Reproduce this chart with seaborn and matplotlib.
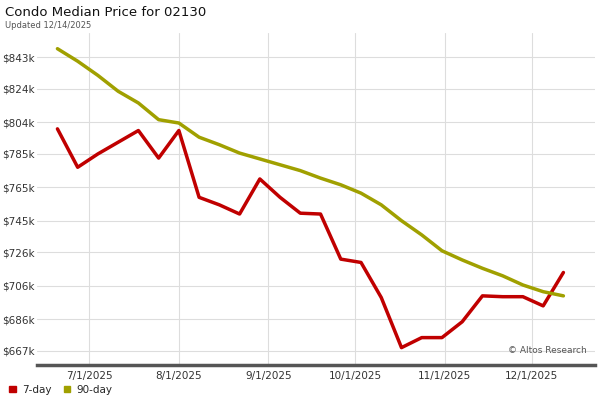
import numpy as np
import pandas as pd
import matplotlib
matplotlib.use("Agg")
import matplotlib.pyplot as plt
import matplotlib.dates as mdates
import seaborn as sns

# ── Données (en k$) ───────────────────────────────────────────────────────────
dates = pd.date_range("2025-06-20", periods=26, freq="7D")
price_7day = [800, 777, 785, 792, 799, 782.5, 799, 759, 754.5, 749, 770, 759,
              749.5, 749, 722, 720, 699, 669, 675, 675, 684.5, 700, 699.5,
              699.5, 694, 714]
price_90day = [848, 840.5, 832, 822.5, 815.5, 805.5, 803.5, 795, 790.5, 785.5,
               782, 778.5, 775, 770.5, 766.5, 761.5, 754.5, 745, 736.5, 727,
               721.5, 716.5, 712, 706.5, 702.5, 700]
y_ticks = [667, 686, 706, 726, 745, 765, 785, 804, 824, 843]

df = pd.DataFrame({"date": list(dates) * 2,
                   "price": price_7day + price_90day,
                   "series": ["7-day"] * 26 + ["90-day"] * 26})

sns.set_theme(style="white")
plt.rcParams["font.family"] = ["DejaVu Sans"]

fig = plt.figure(figsize=(6, 4), dpi=100)
ax = fig.add_axes([0.062, 0.0875, 0.93, 0.83])

sns.lineplot(data=df, x="date", y="price", hue="series",
             palette={"7-day": "#c00000", "90-day": "#a0a000"},
             linewidth=2.5, ax=ax, legend=False)

ax.set_ylim(658.6, 857.4)
ax.set_xlim(pd.Timestamp("2025-06-13"), pd.Timestamp("2025-12-23"))
ax.set_yticks(y_ticks)
ax.set_yticklabels([f"${v}k" for v in y_ticks], fontsize=7.5, color="#333333")
ax.xaxis.set_major_locator(mdates.MonthLocator())
ax.xaxis.set_major_formatter(mdates.DateFormatter("%-m/1/%Y"))
ax.tick_params(axis="x", labelsize=7.5, colors="#333333", length=0, pad=4)
ax.tick_params(axis="y", length=0, pad=2)
ax.grid(True, color="#dddddd", linewidth=0.8)
ax.set_xlabel("")
ax.set_ylabel("")
for s in ["top", "right", "left"]:
    ax.spines[s].set_visible(False)
ax.spines["bottom"].set_color("#555555")
ax.spines["bottom"].set_linewidth(2.5)

ax.text(0.985, 0.03, "© Altos Research", transform=ax.transAxes,
        ha="right", va="bottom", fontsize=6.5, color="#555555")

fig.text(0.008, 0.985, "Condo Median Price for 02130", fontsize=9.5,
         va="top", ha="left", color="#111111")
fig.text(0.008, 0.948, "Updated 12/14/2025", fontsize=6, va="top",
         ha="left", color="#555555")

# légende en bas à gauche
from matplotlib.patches import Patch
handles = [Patch(color="#c00000", label="7-day"),
           Patch(color="#a0a000", label="90-day")]
fig.legend(handles=handles, loc="lower left", bbox_to_anchor=(0.0, -0.01),
           ncol=2, frameon=False, fontsize=7.5, handlelength=0.6,
           handleheight=0.6, columnspacing=1.2, handletextpad=0.6)

fig.savefig("out.png", dpi=100)
